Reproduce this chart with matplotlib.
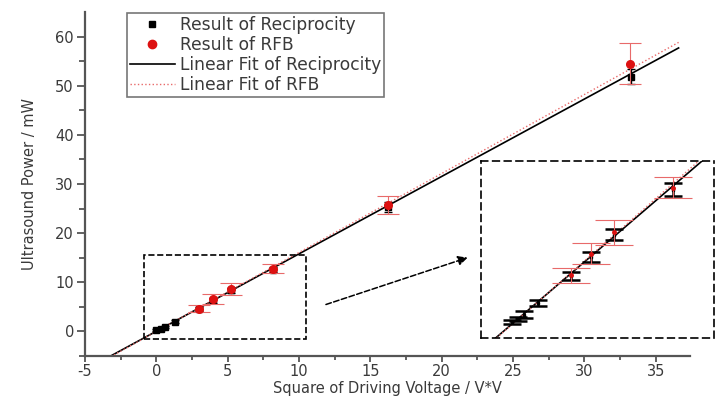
import numpy as np
import matplotlib
matplotlib.use("Agg")
import matplotlib.pyplot as plt
from matplotlib.patches import Rectangle
from matplotlib.lines import Line2D

plt.rcParams['font.family'] = ['DejaVu Sans']
plt.rcParams['axes.unicode_minus'] = False

# reciprocity results
x_rec = [0.0, 0.3, 0.6, 1.3, 3.0, 4.0, 5.2, 8.2, 16.2, 33.3]
y_rec = [0.2, 0.5, 0.9, 2.0, 4.5, 6.3, 8.4, 12.6, 25.3, 51.8]
e_rec = [0.2, 0.2, 0.3, 0.3, 0.4, 0.5, 0.5, 0.6, 1.0, 1.5]
# radiation force balance results
x_rfb = [3.0, 4.0, 5.2, 8.2, 16.2, 33.2]
y_rfb = [4.6, 6.6, 8.6, 12.8, 25.7, 54.5]
e_rfb = [0.7, 1.0, 1.2, 1.0, 1.8, 4.2]
# linear fits (slope, intercept) as drawn in the figure
fit_rec = [1.575, 0.04]
fit_rfb = [1.607, 0.0]
fit_range = [-3.2, 36.6]

gray = '#555555'
txt = '#3a3a3a'
red = '#dd1111'
pink = '#e86a6a'

xf = np.linspace(fit_range[0], fit_range[1], 50)

fig = plt.figure(figsize=(7.15, 3.99), dpi=100)
ax = fig.add_axes([85/715, 43/399, 605/715, 344/399])


def draw(a, ms, cap_k, cap_r, lw):
    a.errorbar(x_rec, y_rec, yerr=e_rec, fmt='s', color='black', ms=ms,
               capsize=cap_k, elinewidth=lw, capthick=lw, zorder=3)
    a.errorbar(x_rfb, y_rfb, yerr=e_rfb, fmt='o', color=red, ecolor=pink,
               ms=ms + 1, capsize=cap_r, elinewidth=0.8, capthick=0.8,
               zorder=4)
    a.plot(xf, np.polyval(fit_rec, xf), color='black', lw=1.2, zorder=2)
    a.plot(xf, np.polyval(fit_rfb, xf), color=pink, lw=1.0, ls=':', zorder=2)


draw(ax, 4.5, 3, 8, 1.0)
ax.set_xlim(-5, 37.4)
ax.set_ylim(-5, 65)
ax.set_xticks(range(-5, 40, 5))
ax.set_xticks(np.arange(-2.5, 37.5, 5), minor=True)
ax.set_yticks(range(0, 70, 10))
ax.set_yticks(range(-5, 65, 10), minor=True)
for s in ['top', 'right']:
    ax.spines[s].set_visible(False)
for s in ['left', 'bottom']:
    ax.spines[s].set_color(gray)
    ax.spines[s].set_linewidth(1.6)
ax.tick_params(which='both', direction='out', color=gray, width=1.3,
               labelcolor=txt, labelsize=10.5, pad=2)
ax.tick_params(axis='x', which='major', length=4)
ax.tick_params(axis='x', which='minor', length=3)
ax.tick_params(axis='y', which='major', length=6)
ax.tick_params(axis='y', which='minor', length=4)
ax.set_xlabel('Square of Driving Voltage / V*V', fontsize=10.5, color=txt,
              labelpad=1)
ax.set_ylabel('Ultrasound Power / mW', fontsize=10.5, color=txt, labelpad=13)

handles = [
    Line2D([], [], ls='none', marker='s', color='black', ms=5),
    Line2D([], [], ls='none', marker='o', color=red, ms=6),
    Line2D([], [], color='black', lw=1.2),
    Line2D([], [], color=pink, lw=1.0, ls=':'),
]
labels = ['Result of Reciprocity', 'Result of RFB',
          'Linear Fit of Reciprocity', 'Linear Fit of RFB']
leg = ax.legend(handles, labels, loc='upper left', bbox_to_anchor=(0.069, 0.997),
                fontsize=12.3, frameon=True, fancybox=False, handlelength=2.6,
                borderpad=0.2, labelspacing=0.1, handletextpad=0.3,
                borderaxespad=0)
leg.get_frame().set_edgecolor(gray)
leg.get_frame().set_linewidth(1.2)
for t in leg.get_texts():
    t.set_color(txt)

# zoom box in main axes
ax.add_patch(Rectangle((-0.9, -1.5), 11.4, 17.1, fill=False, ls='--',
                       lw=1.2, color='black', zorder=5))
ax.annotate('', xy=(22.0, 15.2), xytext=(11.7, 5.3),
            arrowprops=dict(arrowstyle='-|>', ls='--', color='black', lw=1.1,
                            mutation_scale=14))

# inset
axi = fig.add_axes([481/715, 61/399, 233/715, 177/399])
draw(axi, 1.5, 6.5, 14, 1.8)
axi.set_xlim(-1.6, 10.3)
axi.set_ylim(-1.3, 15.3)
axi.set_xticks([])
axi.set_yticks([])
for s in axi.spines.values():
    s.set_linestyle((0, (4, 3)))
    s.set_linewidth(1.2)
    s.set_color('black')

fig.savefig('out.png', dpi=100)
